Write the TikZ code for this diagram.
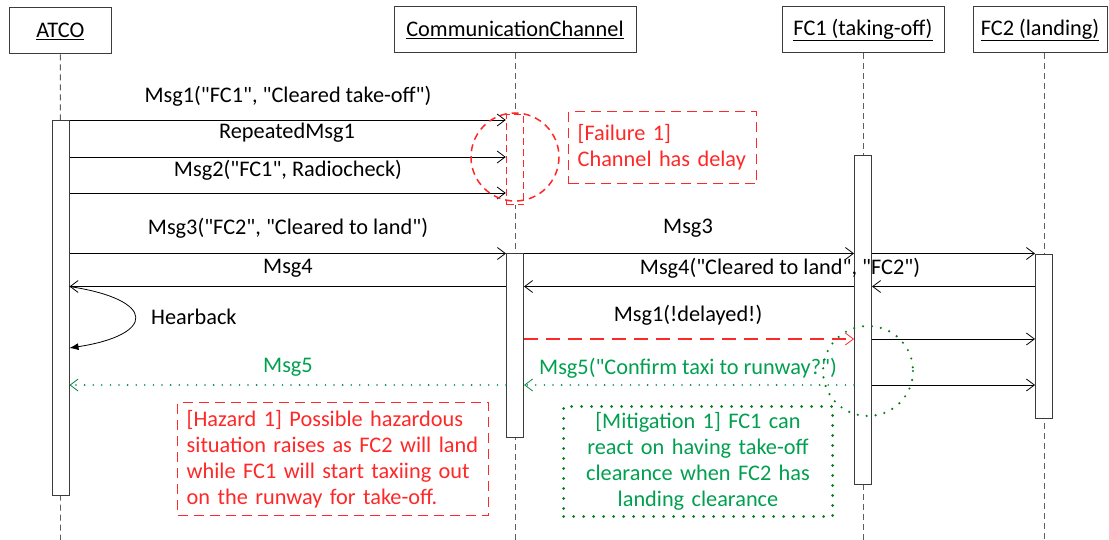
\documentclass[tikz,border=0pt]{standalone}
\usepackage{fontspec}
\setmainfont{Carlito}[Ligatures=TeXOff]
\usetikzlibrary{arrows.meta}
\definecolor{boxgray}{RGB}{60,60,60}
\definecolor{lifegray}{RGB}{95,95,95}
\definecolor{hazred}{RGB}{255,40,40}
\definecolor{dotgreen}{RGB}{0,128,20}
\definecolor{txtgreen}{RGB}{0,160,80}
\begin{document}
\begin{tikzpicture}[x=1pt,y=-1pt,
  txt/.style={font=\fontsize{22.3}{26}\selectfont},
  head/.style={txt, draw=boxgray, line width=1pt, fill=white, inner sep=0pt},
  life/.style={draw=lifegray, line width=0.9pt, dash pattern=on 6pt off 4pt},
  act/.style={draw=boxgray, line width=1pt, fill=white, inner sep=0pt, minimum width=17pt, anchor=north},
  tip/.style={-{Straight Barb[length=8pt,width=12pt,line width=0.8pt]}},
  msg/.style={tip, line width=0.8pt, draw=black},
  lbl/.style={txt, inner sep=0pt},
  delayed/.style={tip, draw=hazred, line width=1.4pt, dash pattern=on 14pt off 8pt},
  confirm/.style={tip, draw=txtgreen!85!black, line width=1.8pt, line cap=round, dash pattern=on 0pt off 8.6pt},
  rednote/.style={txt, text=hazred, draw=hazred, line width=1.4pt, dash pattern=on 10pt off 6pt, inner xsep=9pt, inner ysep=0pt, anchor=north west, align=left},
  greennote/.style={txt, text=txtgreen, draw=dotgreen, line width=3pt, line cap=round, dash pattern=on 0pt off 10pt, inner sep=0pt, anchor=north west, align=center},
]
\fill[white] (0,0) rectangle (1109,540);
\useasboundingbox (0,0) rectangle (1109,540);

% participants
\node[head, minimum width=102pt, minimum height=46pt] (atco) at (60.3,31) {\underline{ATCO}};
\node[head, minimum width=242pt, minimum height=46pt] (chan) at (515,30) {\underline{CommunicationChannel}};
\node[head, minimum width=162pt, minimum height=46pt] (fca) at (863,30) {\underline{FC1 (taking-off)}};
\node[head, minimum width=134pt, minimum height=46pt] (fcb) at (1040,30) {\underline{FC2 (landing)}};

% lifelines
\coordinate (endA) at (60.5,540);
\coordinate (endC) at (515,540);
\coordinate (endF) at (863,540);
\coordinate (topB) at (1044,53);
\coordinate (endB) at (1044,540);
\draw[life] (atco.south) -- (endA);
\draw[life] (chan.south) -- (endC);
\draw[life] (fca.south) -- (endF);
\draw[life] (topB) -- (endB);

% activation bars
\node[act, minimum height=375pt] (actA) at (60.5,120) {};
\node[act, minimum height=90pt, draw=hazred, line width=1.4pt, dash pattern=on 7pt off 4pt] (actD) at (515,114) {};
\node[act, minimum height=184pt] (actC) at (515,253) {};
\node[act, minimum height=329pt] (actF) at (863,155) {};
\node[act, minimum height=164pt] (actB) at (1044,254) {};

% message rows
\coordinate (r1) at (0,120);
\coordinate (r2) at (0,157);
\coordinate (r3) at (0,193);
\coordinate (r4) at (0,253.5);
\coordinate (r5) at (0,286.5);
\coordinate (rh) at (0,348);
\coordinate (r6) at (0,339);
\coordinate (r7) at (0,385);

% ATCO -> channel
\draw[msg] (actA.east |- r1) -- (actD.west |- r1);
\draw[msg] (actA.east |- r2) -- (actD.west |- r2);
\draw[msg] (actA.east |- r3) -- (actD.west |- r3);
\draw[msg] (actA.east |- r4) -- (actC.west |- r4);
\node[lbl] (m1) at (288,96) {Msg1("FC1", "Cleared take-off")};
\node[lbl] (m1r) at (287,133) {RepeatedMsg1};
\node[lbl] (m2) at (288,170) {Msg2("FC1", Radiocheck)};
\node[lbl] (m3) at (288,228) {Msg3("FC2", "Cleared to land")};

% channel -> FC1 -> FC2
\draw[msg] (actC.east |- r4) -- (actF.west |- r4);
\draw[msg] (actF.east |- r4) -- (actB.west |- r4);
\node[lbl] (m3b) at (688,228) {Msg3};

% Msg4 back to ATCO
\draw[msg] (actB.west |- r5) -- (actF.east |- r5);
\draw[msg] (actF.west |- r5) -- (actC.east |- r5);
\draw[msg] (actC.west |- r5) -- (actA.east |- r5);
\node[lbl] (m4b) at (780,268) {Msg4("Cleared to land", "FC2")};
\node[lbl] (m4) at (288,268) {Msg4};

% hearback loop
\draw[line width=0.8pt, -{Latex[length=9pt,width=7pt]}] (actA.east |- r5) .. controls (158,300) and (155,335) .. (actA.east |- rh);
\node[lbl, anchor=west] (hb) at (151,317) {Hearback};

% delayed Msg1
\draw[delayed] (actC.east |- r6) -- (actF.west |- r6);
\draw[msg] (actF.east |- r6) -- (actB.west |- r6);
\node[lbl] (m1d) at (688,315) {Msg1(!delayed!)};

% Msg5
\draw[confirm] (actF.west |- r7) -- (actC.east |- r7);
\draw[confirm] (actC.west |- r7) -- (actA.east |- r7);
\draw[msg] (actF.east |- r7) -- (actB.west |- r7);
\node[lbl, text=txtgreen] (m5b) at (688,368) {Msg5("Confirm taxi to runway?")};
\node[lbl, text=txtgreen] (m5) at (288,367) {Msg5};

% failure / hazard / mitigation notes
\node[rednote, text width=170pt, minimum height=72pt] (fail) at (568,111) {[Failure 1]\\Channel has delay};
\node[rednote, text width=293pt, minimum height=113pt] (haz) at (177,402)
  {[Hazard 1] Possible hazardous\\situation raises as FC2 will land\\while FC1 will start taxiing out\\on the runway for take-off.};
\node[greennote, text width=269pt, minimum height=110pt] (mit) at (562,405)
  {[Mitigation 1] FC1 can\\react on having take-off\\clearance when FC2 has\\landing clearance};

% highlight circles
\draw[hazred, line width=1.5pt, dash pattern=on 7pt off 5pt] (515,157) circle[radius=44];
\draw[dotgreen, line width=2.4pt, line cap=round, dash pattern=on 0pt off 9pt] (868,371) circle[radius=45];
\end{tikzpicture}
\end{document}
